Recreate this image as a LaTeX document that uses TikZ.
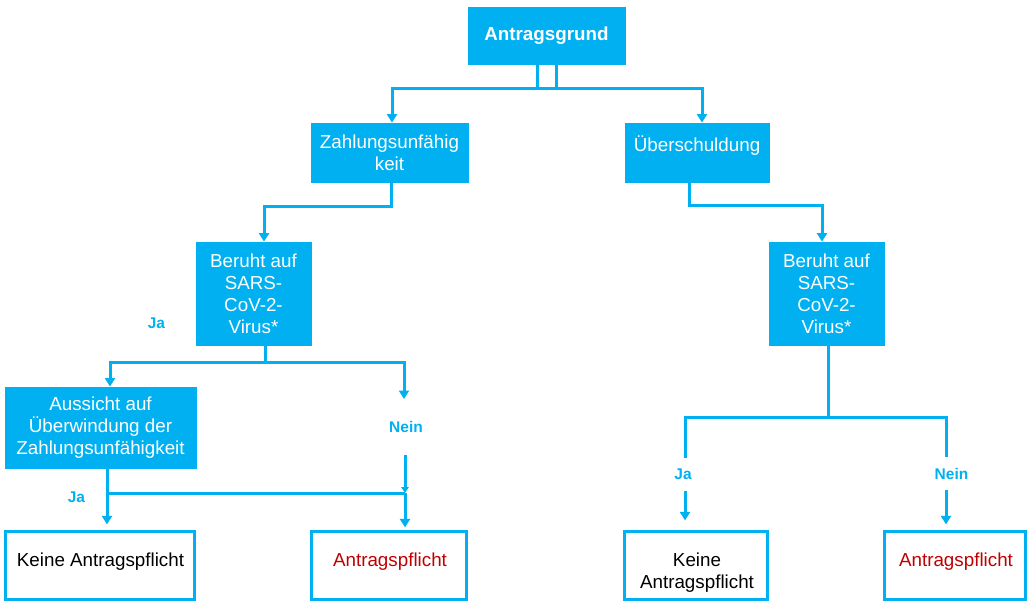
\documentclass[tikz,border=0pt]{standalone}
\usepackage{fontspec}
\setmainfont{Liberation Sans}
\usetikzlibrary{arrows.meta}
\definecolor{cblue}{HTML}{00B0F0}
\definecolor{cred}{HTML}{C00000}
\begin{document}
\begin{tikzpicture}[x=1pt,y=-1pt,
  bluebox/.style={draw=cblue, fill=cblue, line width=0.8pt, inner sep=0pt, text=white, align=center, font=\fontsize{18.8}{22}\selectfont},
  whitebox/.style={draw=cblue, fill=white, line width=3.2pt, inner sep=0pt},
  conn/.style={draw=cblue, line width=3pt},
  arr/.style={conn, -{Triangle[width=10pt,length=8.5pt]}},
  smallarr/.style={conn, -{Triangle[width=7.5pt,length=6pt]}},
  lbl/.style={text=cblue, font=\fontsize{15.5}{18}\selectfont\bfseries, inner sep=0pt},
  btxt/.style={font=\fontsize{18.8}{22}\selectfont, inner sep=0pt, align=center}
]
\useasboundingbox (0,0) rectangle (1031,602);

% blue boxes
\node[bluebox, minimum width=157, minimum height=57, font=\fontsize{18.8}{22}\selectfont\bfseries] (A) at (546.5,35.5) {Antragsgrund};
\node[bluebox, minimum width=157, minimum height=59] (Z) at (389.5,152.5) {Zahlungsunfähig\\keit};
\node[bluebox, minimum width=144, minimum height=59] (U) at (697,152.5) {};
\node[btxt, text=white, anchor=base] (Ut) at (697,151) {Überschuldung};
\node[bluebox, minimum width=115, minimum height=103] (B1) at (253.5,293.5) {Beruht auf\\SARS-\\CoV-2-\\Virus*};
\node[bluebox, minimum width=115, minimum height=103] (B2) at (826.5,293.5) {Beruht auf\\SARS-\\CoV-2-\\Virus*};
\node[bluebox, minimum width=191, minimum height=81] (AU) at (100.5,427.5) {Aussicht auf\\Überwindung der\\Zahlungsunfähigkeit};

% white result boxes
\node[whitebox, minimum width=189, minimum height=68] (K1) at (100,565.5) {};
\node[btxt, anchor=base] (K1t) at (100.5,566) {Keine Antragspflicht};
\node[whitebox, minimum width=155, minimum height=68] (P1) at (389,565.5) {};
\node[btxt, anchor=base, text=cred] (P1t) at (390,566) {Antragspflicht};
\node[whitebox, minimum width=143, minimum height=68] (K2) at (696,565.5) {};
\node[btxt] (K2t) at (697,572.5) {Keine\\Antragspflicht};
\node[whitebox, minimum width=141, minimum height=68] (P2) at (955,565.5) {};
\node[btxt, anchor=base, text=cred] (P2t) at (956,566.5) {Antragspflicht};

% labels
\node[lbl] (ja1) at (156.5,323.5) {Ja};
\node[lbl] (nein1) at (406,426.5) {Nein};
\node[lbl] (ja2) at (76.5,497.5) {Ja};
\node[lbl] (ja3) at (683,474) {Ja};
\node[lbl] (nein2) at (951.5,473.5) {Nein};

% coordinates for free ends
\coordinate (n1top) at (404,399);
\coordinate (n1bot) at (405,455);
\coordinate (jn) at (405,493);
\coordinate (ja3top) at (685,458);
\coordinate (ja3bot) at (685,491);
\coordinate (nein2top) at (946,457);
\coordinate (nein2bot) at (946,490);

% connectors
\draw[arr] ([xshift=9.5]A.south) -- ++(0,24) -| ([xshift=2.5]Z.north);
\draw[arr] ([xshift=-9.5]A.south) -- ++(0,24) -| ([xshift=5]U.north);
\draw[arr] ([xshift=1.5]Z.south) -- ++(0,24) -| ([xshift=10.5]B1.north);
\draw[arr] ([xshift=-8]U.south) -- ++(0,23) -| ([xshift=-4.5]B2.north);

\draw[arr] ([xshift=11.5]B1.south) -- ++(0,17) -| ([xshift=9.5]AU.north);
\draw[arr] ([xshift=11.5]B1.south) -- ++(0,17) -| (n1top);

\draw[smallarr] (n1bot) -- (jn);
\draw[arr, shorten >=2.5pt] (jn) -- ([xshift=16]P1.north);
\draw[conn] ([xshift=6.5]AU.south) |- (jn);
\draw[arr, shorten >=5.5pt] ([xshift=6.5]AU.south) -- ([xshift=7]K1.north);

\draw[conn] ([xshift=1.5]B2.south) -- ++(0,72) coordinate (rj);
\draw[conn] (rj) -| (ja3top);
\draw[conn] (rj) -| (nein2top);
\draw[arr, shorten >=9.5pt] (ja3bot) -- ([xshift=-11]K2.north);
\draw[arr, shorten >=5.5pt] (nein2bot) -- ([xshift=-9]P2.north);
\end{tikzpicture}
\end{document}
